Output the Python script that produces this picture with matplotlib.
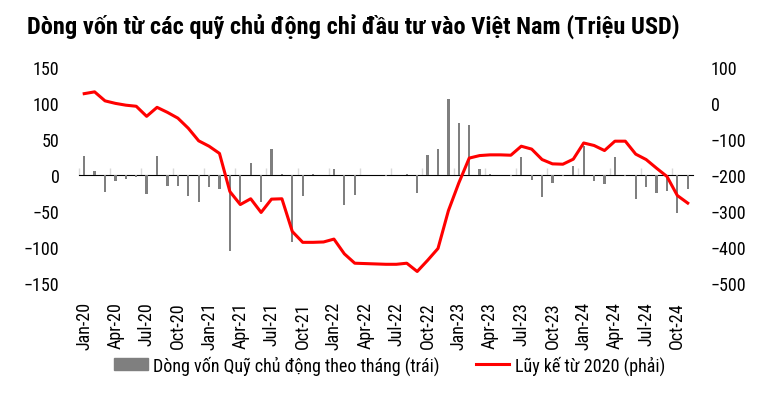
import numpy as np
import matplotlib.pyplot as plt
from matplotlib import font_manager
from matplotlib.patches import Patch
from matplotlib.lines import Line2D

# chọn font hẹp (giống Arial Narrow) nếu có
installed = {f.name for f in font_manager.fontManager.ttflist}
narrow = [f for f in ["Liberation Sans Narrow", "Arial Narrow", "Roboto Condensed",
                      "Archivo Narrow", "PT Sans Narrow", "IBM Plex Sans Condensed"]
          if f in installed]
plt.rcParams["font.family"] = narrow[:1] + ["Liberation Sans", "DejaVu Sans"]

# Tháng Jan-20 .. Nov-24
month_names = ["Jan", "Feb", "Mar", "Apr", "May", "Jun",
               "Jul", "Aug", "Sep", "Oct", "Nov", "Dec"]
labels = [f"{m}-{y}" for y in range(20, 25) for m in month_names][:59]

# Dòng vốn theo tháng (trái, triệu USD)
flows = [26, 6, -24, -9, -5, -3, -27, 26, -15, -15, -29, -37,
         -16, -20, -105, -38, 16, -37, 36, 1, -93, -29, 1, 0,
         8, -41, -28, 0, 0, -2, 0, 1, -25, 28, 36, 105,
         72, 70, 8, 1, 0, -2, 25, -7, -30, -11, -2, 12,
         40, -8, -13, 25, -2, -34, -16, -25, -22, -53, -20]

# Lũy kế từ 2020 (phải)
cumulative = [26, 31, 6, -1, -6, -9, -37, -12, -26, -42, -70, -105,
              -120, -140, -246, -282, -266, -304, -267, -266, -357, -387, -387, -386,
              -378, -419, -445, -446, -447, -448, -448, -445, -468, -437, -404, -299,
              -222, -153, -146, -144, -144, -145, -120, -128, -157, -169, -170, -156,
              -111, -118, -132, -106, -106, -142, -157, -181, -204, -257, -278]

x = np.arange(len(labels))

fig = plt.figure(figsize=(7.64, 4.02), dpi=100)
ax = fig.add_axes([0.1034, 0.2935, 0.8036, 0.5373])
ax2 = ax.twinx()

ax.bar(x, flows, width=0.22, color="#7f7f7f", zorder=2)
ax2.plot(x, cumulative, color="#ff0000", linewidth=2.2, zorder=3)

ax.set_xlim(-0.5, len(labels) - 0.5)
ax.set_ylim(-150, 150)
ax.set_yticks(np.arange(-150, 151, 50))
ax2.set_ylim(-500, 100)
ax2.set_yticks(np.arange(-500, 101, 100))

ax.set_xticks(x[::3])
ax.set_xticklabels(labels[::3], rotation=90)

for a in (ax, ax2):
    for s in a.spines.values():
        s.set_visible(False)
    a.tick_params(length=0, labelsize=13)
ax.tick_params(axis="y", pad=14)
ax2.tick_params(axis="y", pad=13)
ax.tick_params(axis="x", pad=13)

# trục 0 màu xám nhạt với vạch chia mỗi quý
sec = ax.secondary_xaxis(0.5)
sec.spines["bottom"].set_color("#d9d9d9")
sec.set_xticks(x[::3] - 0.5)
sec.set_xticklabels([])
sec.tick_params(length=5, color="#d9d9d9", width=1)

fig.text(0.035, 0.917, "Dòng vốn từ các quỹ chủ động chỉ đầu tư vào Việt Nam (Triệu USD)",
         fontsize=17.6, fontweight="bold", ha="left", va="baseline")

handles = [Patch(color="#7f7f7f"), Line2D([], [], color="#ff0000", linewidth=2.2)]
fig.legend(handles, ["Dòng vốn Quỹ chủ động theo tháng (trái)", "Lũy kế từ 2020 (phải)"],
           loc="center", bbox_to_anchor=(0.51, 0.09), ncol=2, frameon=False,
           fontsize=13, handlelength=1.85, handletextpad=0.3, columnspacing=2.0)

fig.savefig("out.png", dpi=100)
